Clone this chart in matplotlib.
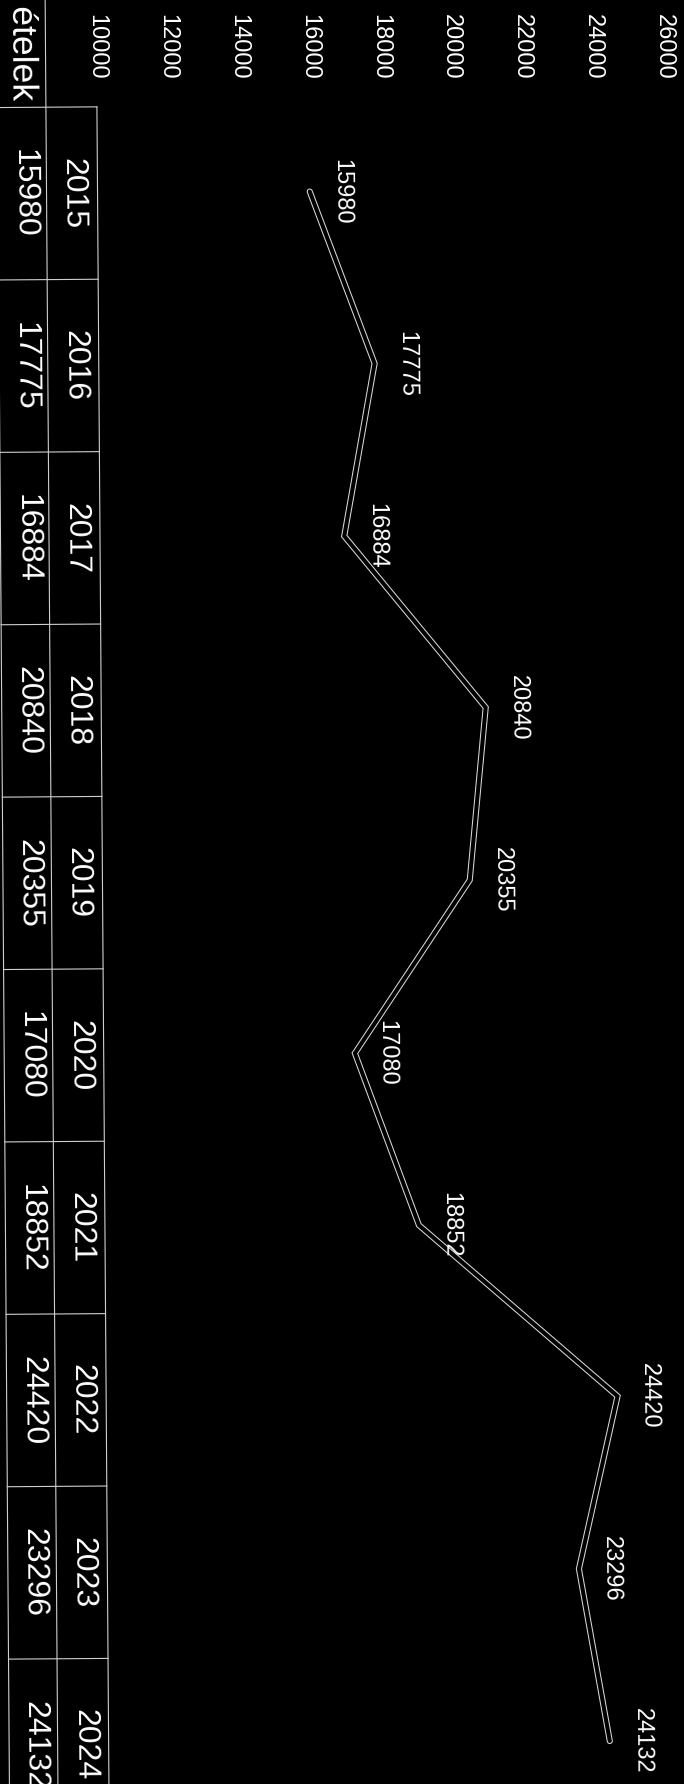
import matplotlib
matplotlib.use("Agg")
import matplotlib.pyplot as plt
from matplotlib.transforms import Affine2D, blended_transform_factory, IdentityTransform, offset_copy

# ---- data ----
years = [2015, 2016, 2017, 2018, 2019, 2020, 2021, 2022, 2023, 2024]
values = [15980, 17775, 16884, 20840, 20355, 17080, 18852, 24420, 23296, 24132]
row_label = "Eladott ételek"
tick_values = [10000, 12000, 14000, 16000, 18000, 20000, 22000, 24000, 26000]

plt.rcParams["font.family"] = ["Liberation Sans", "DejaVu Sans"]

W, H, DPI = 684, 1784, 100
fig = plt.figure(figsize=(W / DPI, H / DPI), dpi=DPI, facecolor="black")
ax = fig.add_axes([0, 0, 1, 1])
ax.set_facecolor("black")
for s in ax.spines.values():
    s.set_visible(False)

idx = list(range(len(years)))

# slight scan skew of the whole picture
SKEW = 0.41
rot = Affine2D().rotate_deg_around(380, H - 48, SKEW)
tr_data = ax.transData + rot

line_kw = dict(transform=tr_data, solid_capstyle="round", solid_joinstyle="miter", clip_on=False)
ax.plot(values, idx, color="#d9d9d9", lw=4.4, **line_kw)
ax.plot(values, idx, color="black", lw=2.9, **line_kw)

lab_tr = offset_copy(tr_data, fig=fig, x=32, y=0, units="dots")
for v, i in zip(values, idx):
    ax.text(v, i, str(v), transform=lab_tr, rotation=270 + SKEW, ha="center", va="center",
            fontsize=17, color="white", clip_on=False)

# axis limits / ticks
ax.set_xlim(7272, 26567)
ax.set_ylim(9.240, -1.108)
ax.set_yticks([])
ax.xaxis.tick_top()
ax.set_xticks(tick_values)
ax.set_xticklabels([str(t) for t in tick_values])
ax.tick_params(axis="x", length=0, pad=-57.6, labelsize=17, labelcolor="white",
               labelrotation=270)

# ---- data table (x in pixels, y in category units) ----
tbl = blended_transform_factory(IdentityTransform(), ax.transData) + rot
x_left, x_mid, x_right = -3, 45.5, 96.5
lcol = "#cfcfcf"
for b in [i - 0.5 for i in range(len(years) + 1)]:
    ax.plot([x_left, x_right], [b, b], color=lcol, lw=0.8, transform=tbl, clip_on=False)
for xv, y0 in ((x_left, -1.3), (x_mid, -1.3), (x_right, -0.5)):
    ax.plot([xv, xv], [y0, 9.4], color=lcol, lw=0.8, transform=tbl, clip_on=False)

for y, v, i in zip(years, values, idx):
    ax.text(72, i, str(y), transform=tbl, rotation=270 + SKEW, ha="center", va="center",
            fontsize=23, color="white", clip_on=False)
    ax.text(23, i, str(v), transform=tbl, rotation=270 + SKEW, ha="center", va="center",
            fontsize=23, color="white", clip_on=False)

ax.text(21, -0.5, row_label, transform=offset_copy(tbl, fig=fig, x=0, y=7, units="dots"),
        rotation=270 + SKEW, ha="center", va="bottom", fontsize=25.5, color="white", clip_on=False)

fig.savefig("out.png", dpi=DPI, facecolor="black")
